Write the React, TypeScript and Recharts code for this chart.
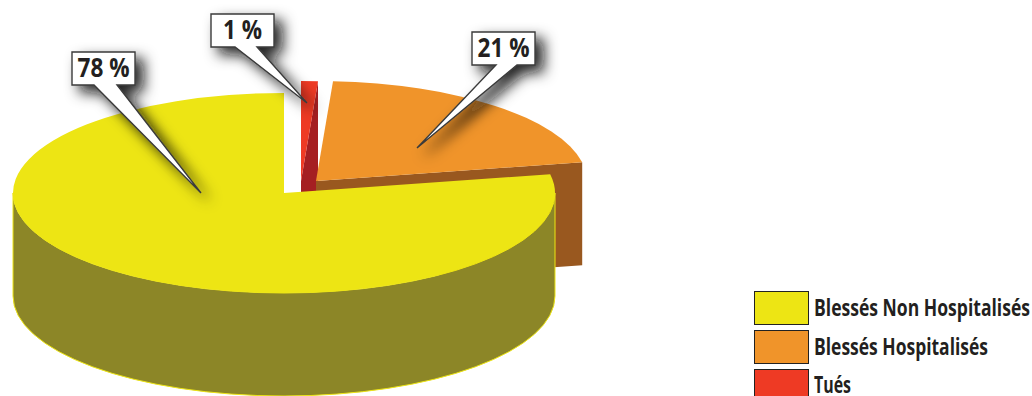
import React from "react";
import { PieChart, Pie, Legend } from "recharts";

// Data (paint order: back slices first)
const sliceNames = ["Tués", "Blessés Hospitalisés", "Blessés Non Hospitalisés"];
const sliceValues = [1, 21, 78];
const topColors = ["#ee3a24", "#f0942a", "#ede514"];
const wallColors = ["#a51f22", "#99581f", "#8c8627"];
const table = sliceNames.map((name, i) => ({ name, value: sliceValues[i], fill: topColors[i], wall: wallColors[i], idx: i }));

// Layout
const W = 1032, H = 396;
const CX = 284, CY = 193, RX = 271, RY = 100, DEPTH = 103;
const explode = [{ dx: 17, dy: -12 }, { dx: 32, dy: -12 }, { dx: 0, dy: 0 }];
const callouts = [
  { box: [211, 14, 274, 47], base: [235, 257], tip: [307, 103], textW: 39 },
  { box: [472, 32, 535, 65], base: [496, 517], tip: [417, 148], textW: 52 },
  { box: [72, 52, 135, 85], base: [94, 117], tip: [201, 193], textW: 52 },
];
const legendTextW = [37, 174, 216];
const FONT = "'Open Sans', sans-serif";

const rad = (d: number) => (d * Math.PI) / 180;
const pt = (cx: number, cy: number, a: number, dz = 0) => [cx + RX * Math.cos(rad(a)), cy - RY * Math.sin(rad(a)) + dz];
const f = (p: number[]) => `${p[0].toFixed(2)} ${p[1].toFixed(2)}`;

function Slice(props: any) {
  const { cx, cy, startAngle, endAngle, payload } = props;
  const i = payload?.idx ?? props.idx ?? 0;
  const x = cx + explode[i].dx;
  const y = cy + explode[i].dy;
  const lo = Math.min(startAngle, endAngle);
  const hi = Math.max(startAngle, endAngle);
  const large = hi - lo > 180 ? 1 : 0;
  const a = pt(x, y, lo), b = pt(x, y, hi);
  const top = `M ${x} ${y} L ${f(a)} A ${RX} ${RY} 0 ${large} 0 ${f(b)} Z`;
  const radial = `M ${x} ${y} L ${f(a)} L ${f(pt(x, y, lo, DEPTH))} L ${x} ${y + DEPTH} Z`;
  // outer rim visible on the lower half of the ellipse
  const s = Math.max(lo, 180), e = Math.min(hi, 360);
  let rim: string | null = null;
  if (e > s) {
    const p1 = pt(x, y, s), p2 = pt(x, y, e);
    rim = `M ${f(p1)} A ${RX} ${RY} 0 0 0 ${f(p2)} L ${f(pt(x, y, e, DEPTH))} A ${RX} ${RY} 0 0 1 ${f(pt(x, y, s, DEPTH))} Z`;
  }
  return (
    <g>
      <path d={radial} fill={payload.wall} />
      {rim && <path d={rim} fill={payload.wall} stroke={payload.fill} strokeWidth={1} />}
      <path d={top} fill={payload.fill} />
    </g>
  );
}

function Callout(props: any) {
  const i = props.payload?.idx ?? props.idx;
  const c = callouts[i];
  const [x0, y0, x1, y1] = c.box;
  const d = `M ${x0} ${y0} L ${x1} ${y0} L ${x1} ${y1} L ${c.base[1]} ${y1} L ${c.tip[0]} ${c.tip[1]} L ${c.base[0]} ${y1} L ${x0} ${y1} Z`;
  return (
    <g>
      <path d={d} fill="#fff" stroke="#3a3a3a" strokeWidth={1.4} filter="url(#calloutShadow)" />
      <text
        x={(x0 + x1) / 2}
        y={y1 - 8.5}
        textAnchor="middle"
        fontFamily={FONT}
        fontWeight={700}
        fontSize={27}
        textLength={c.textW}
        lengthAdjust="spacingAndGlyphs"
        fill="#231f20"
      >
        {`${props.value} %`}
      </text>
    </g>
  );
}

function LegendBox() {
  const order = [2, 1, 0];
  return (
    <svg width={278} height={105} style={{ display: "block" }}>
      {order.map((i, row) => (
        <g key={i}>
          <rect x={0.5} y={0.5 + row * 39} width={54} height={33} fill={topColors[i]} stroke="#222" strokeWidth={1} />
          <text
            x={60}
            y={25 + row * 39 - (row === 2 ? 1 : 0)}
            fontFamily={FONT}
            fontWeight={700}
            fontSize={23}
            textLength={legendTextW[i]}
            lengthAdjust="spacingAndGlyphs"
            fill="#231f20"
          >
            {sliceNames[i]}
          </text>
        </g>
      ))}
    </svg>
  );
}

export default function App() {
  return (
    <div style={{ position: "absolute", left: 0, top: 0, width: W, height: H, overflow: "hidden", background: "#fff" }}>
      <svg width={0} height={0} style={{ position: "absolute" }}>
        <defs>
          <filter id="calloutShadow" x="-60%" y="-60%" width="240%" height="240%">
            <feDropShadow dx={8} dy={7} stdDeviation={7} floodColor="#111" floodOpacity={0.9} />
          </filter>
        </defs>
      </svg>
      <PieChart width={W} height={H} margin={{ top: 0, right: 0, bottom: 0, left: 0 }}>
        <Pie
          data={table}
          dataKey="value"
          nameKey="name"
          cx={CX}
          cy={CY}
          outerRadius={RX}
          innerRadius={0}
          startAngle={450}
          endAngle={90}
          stroke="none"
          shape={Slice}
          label={Callout}
          labelLine={false}
          isAnimationActive={false}
        />
        <Legend
          layout="vertical"
          align="right"
          verticalAlign="top"
          content={LegendBox}
          wrapperStyle={{ position: "absolute", left: 754, top: 291, width: 278, right: "auto" }}
        />
      </PieChart>
    </div>
  );
}
